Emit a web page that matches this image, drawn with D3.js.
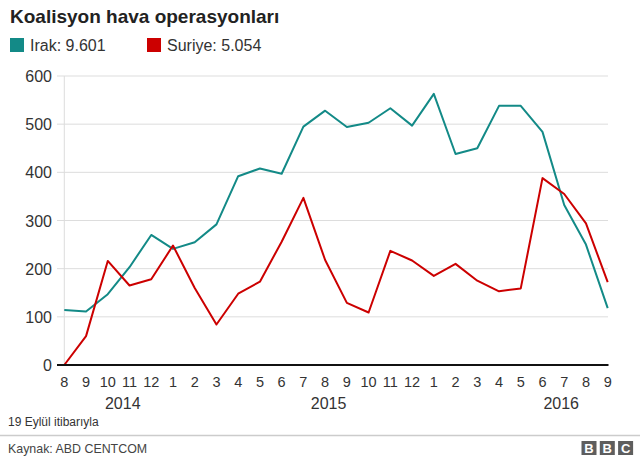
<!DOCTYPE html>
<html>
<head>
<meta charset="utf-8">
<script src="https://cdn.jsdelivr.net/npm/d3@7"></script>
<style>
	body { margin: 0; background: #fff; }
	svg { display: block; font-family: "Liberation Sans", Arial, Helvetica, sans-serif; }
	.grid line { stroke: #dddddd; stroke-width: 1px; }
	.tick-label { fill: #333; }
</style>
</head>
<body>
<svg id="chart" width="640" height="461" viewBox="0 0 640 461"></svg>
<script>

// month labels, Aug 2014 .. Sep 2016
const months = [8, 9, 10, 11, 12,
	1, 2, 3, 4, 5, 6, 7, 8, 9, 10, 11, 12,
	1, 2, 3, 4, 5, 6, 7, 8, 9];

const years = ["2014", "2015", "2016"];

const irak = [114, 111, 147, 203, 270,
	241, 255, 292, 392, 408, 397, 495, 528, 494, 503, 533, 497,
	563, 438, 450, 538, 538, 484, 332, 250, 118];

const suriye = [0, 60, 216, 165, 178,
	248, 160, 84, 148, 173, 256, 347, 218, 129, 109, 237, 217,
	185, 210, 175, 153, 159, 388, 355, 294, 172];

const yTicks = [0, 100, 200, 300, 400, 500, 600];

const series = [
	{name: "Irak", total: "9.601", color: "#138a87", values: irak},
	{name: "Suriye", total: "5.054", color: "#cc0000", values: suriye}
];

const svg = d3.select("#chart");

const x = d3.scaleLinear()
	.domain([0, months.length - 1])
	.range([64.3, 607.7]);

const y = d3.scaleLinear()
	.domain([0, 600])
	.range([365, 76]);

// title
svg.append("text")
	.attr("x", 10)
	.attr("y", 23)
	.style("font-size", "19px")
	.style("font-weight", "bold")
	.style("fill", "#222")
	.text("Koalisyon hava operasyonları");

// legend
const legendX = [10, 147];
const legend = svg.selectAll(".legend")
	.data(series)
	.enter().append("g")
		.attr("class", "legend")
		.attr("transform", (d, i) => "translate(" + legendX[i] + ", 38)");

legend.append("rect")
	.attr("width", 14)
	.attr("height", 14)
	.style("fill", d => d.color);

legend.append("text")
	.attr("x", 20)
	.attr("y", 13)
	.style("font-size", "16px")
	.style("fill", "#333")
	.text(d => d.name + ": " + d.total);

// horizontal grid
svg.append("g")
	.attr("class", "grid")
	.selectAll("line")
	.data(yTicks.filter(d => d > 0))
	.enter().append("line")
		.attr("x1", 57)
		.attr("x2", 608)
		.attr("y1", d => y(d))
		.attr("y2", d => y(d));

// vertical line at the first month
svg.append("line")
	.attr("x1", x(0))
	.attr("x2", x(0))
	.attr("y1", y(600))
	.attr("y2", y(0))
	.style("stroke", "#dddddd")
	.style("stroke-width", "1px");

// y labels
svg.selectAll(".ylab")
	.data(yTicks)
	.enter().append("text")
		.attr("class", "ylab tick-label")
		.attr("x", 52)
		.attr("y", d => y(d) + 6)
		.attr("text-anchor", "end")
		.style("font-size", "16px")
		.text(d => d);

// lines
const line = d3.line()
	.x((d, i) => x(i))
	.y(d => y(d));

svg.selectAll(".series")
	.data(series)
	.enter().append("path")
		.attr("class", "series")
		.attr("d", d => line(d.values))
		.style("fill", "none")
		.style("stroke", d => d.color)
		.style("stroke-width", "2px")
		.style("stroke-linejoin", "round");

// zero axis
svg.append("line")
	.attr("x1", 57)
	.attr("x2", 608.5)
	.attr("y1", y(0))
	.attr("y2", y(0))
	.style("stroke", "#111")
	.style("stroke-width", "2px");

// month labels
svg.selectAll(".xlab")
	.data(months)
	.enter().append("text")
		.attr("class", "xlab tick-label")
		.attr("x", (d, i) => x(i))
		.attr("y", 387)
		.attr("text-anchor", "middle")
		.style("font-size", "14.5px")
		.text(d => d);

// year labels, placed under their months
const yearAnchor = [2.69, 12.16, 22.86];
svg.selectAll(".year")
	.data(years)
	.enter().append("text")
		.attr("class", "year tick-label")
		.attr("x", (d, i) => x(yearAnchor[i]))
		.attr("y", 409)
		.attr("text-anchor", "middle")
		.style("font-size", "16px")
		.text(d => d);

// footnote
svg.append("text")
	.attr("x", 8)
	.attr("y", 426)
	.style("font-size", "12px")
	.style("fill", "#333")
	.text("19 Eylül itibarıyla");

svg.append("line")
	.attr("x1", 0)
	.attr("x2", 640)
	.attr("y1", 435.5)
	.attr("y2", 435.5)
	.style("stroke", "#cccccc")
	.style("stroke-width", "1.5px");

svg.append("text")
	.attr("x", 8)
	.attr("y", 453)
	.style("font-size", "12.4px")
	.style("fill", "#444")
	.text("Kaynak: ABD CENTCOM");

// BBC blocks
const bbc = svg.append("g")
	.attr("transform", "translate(581.5, 441)");

const logo = bbc.selectAll("g")
	.data(["B", "B", "C"])
	.enter().append("g")
		.attr("transform", (d, i) => "translate(" + (i * 18.3) + ", 0)");

logo.append("rect")
	.attr("width", 15)
	.attr("height", 14)
	.style("fill", "#5e5e5e");

logo.append("text")
	.attr("x", 7.5)
	.attr("y", 12)
	.attr("text-anchor", "middle")
	.style("font-size", "13px")
	.style("font-weight", "bold")
	.style("fill", "#fff")
	.text(d => d);

</script>
</body>
</html>
